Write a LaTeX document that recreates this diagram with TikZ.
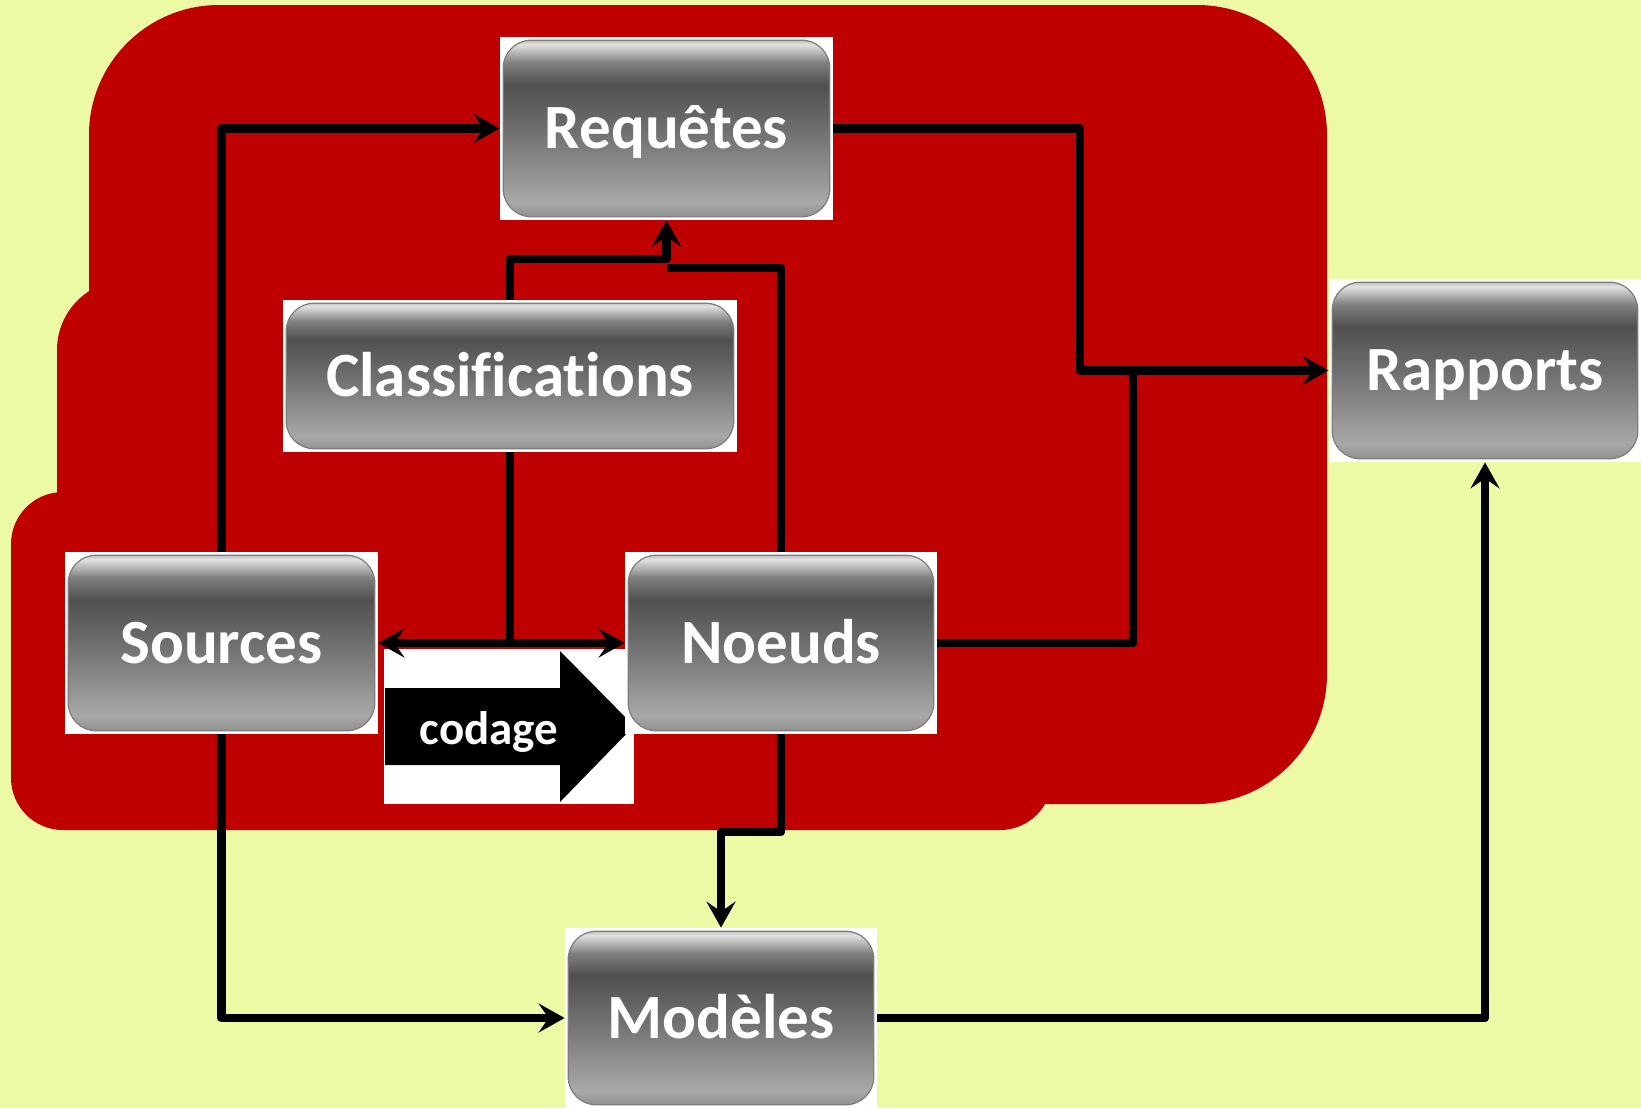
\documentclass[tikz,border=0pt]{standalone}
\usepackage{fontspec}
\setmainfont{Carlito}[Ligatures=NoCommon]
\usetikzlibrary{arrows.meta}
\definecolor{bgc}{RGB}{236,250,166}
\definecolor{redc}{RGB}{190,0,0}
\definecolor{edgec}{RGB}{125,125,125}
\definecolor{s0}{RGB}{140,140,140}
\definecolor{s1}{RGB}{168,168,168}
\definecolor{s2}{RGB}{110,110,110}
\definecolor{s3}{RGB}{80,80,80}
\definecolor{s4}{RGB}{128,128,128}
\definecolor{s5}{RGB}{226,226,226}
\definecolor{s6}{RGB}{165,165,165}
\pgfdeclareverticalshading{boxshade}{100bp}{color(0bp)=(s0); color(25bp)=(s0); color(30bp)=(s1); color(50bp)=(s2); color(62bp)=(s3); color(68bp)=(s4); color(73bp)=(s5); color(75bp)=(s6); color(100bp)=(s6)}
\tikzset{
  box/.style={rectangle, fill=white, inner sep=0pt, text=white,
    text height=22pt, text depth=2pt,
    font=\bfseries\fontsize{31.5}{36}\selectfont,
    path picture={\shadedraw[shading=boxshade, draw=edgec, line width=0.6pt, rounded corners=14pt]
      ([shift={(1.6pt,-1.6pt)}]path picture bounding box.north west) rectangle
      ([shift={(-1.6pt,1.6pt)}]path picture bounding box.south east);}},
  conn/.style={line width=4.3pt, line join=round, draw=black},
  >={Stealth[length=13pt,width=14.5pt,inset=5pt]}
}
\begin{document}
\begin{tikzpicture}[x=0.5pt,y=-0.5pt]
\useasboundingbox (0,0) rectangle (1641,1108);
\fill[bgc] (0,0) rectangle (1641,1108);
% red background region
\fill[redc, rounded corners=65pt] (89,5) rectangle (1327,804);
\fill[redc, rounded corners=35pt] (57,280) rectangle (500,700);
\fill[redc, rounded corners=26pt] (11,492) rectangle (1052,830);
% codage arrow
\fill[white] (384,649) rectangle (634,804);
\fill[black] (385,688) -- (560,688) -- (560,651) -- (634,726) -- (560,802) -- (560,765) -- (385,765) -- cycle;
\node[text=white, font=\bfseries\fontsize{23.5}{28}\selectfont] (cod) at (489,732) {codage};
% boxes
\node[box, minimum width=166.5pt, minimum height=91.5pt] (req) at (666.5,128.5) {Requêtes};
\node[box, minimum width=227pt, minimum height=76pt] (cls) at (510,376) {Classifications};
\node[box, minimum width=156.5pt, minimum height=91pt] (src) at (221.5,643) {Sources};
\node[box, minimum width=156pt, minimum height=91pt] (noe) at (781,643) {Noeuds};
\node[box, minimum width=156pt, minimum height=91.5pt] (rap) at (1485,370.5) {Rapports};
\node[box, minimum width=156pt, minimum height=90pt] (mod) at (721,1018) {Modèles};
% junction points
\coordinate (j1) at (1080,370.5);
\coordinate (j2) at (1133,370.5);
\coordinate (j3) at (666.5,259);
\coordinate (j4) at (666.5,268);
\coordinate (j5) at (781,832);
% connectors
\draw[conn,->] (src.north) |- (req.west);
\draw[conn,->] (req.east) -| (j1) -- (rap.west);
\draw[conn] (noe.east) -| (j2);
\draw[conn,->] (cls.north) |- (j3) -- (req.south);
\draw[conn] (noe.north) |- (j4);
\draw[conn] (cls.south) -- (cls.south |- src.east);
\draw[conn,<->] (src.east) -- (noe.west);
\draw[conn,->] (src.south) |- (mod.west);
\draw[conn,->] (noe.south) -- (j5) -| (mod.north);
\draw[conn,->] (mod.east) -| (rap.south);
\end{tikzpicture}
\end{document}
